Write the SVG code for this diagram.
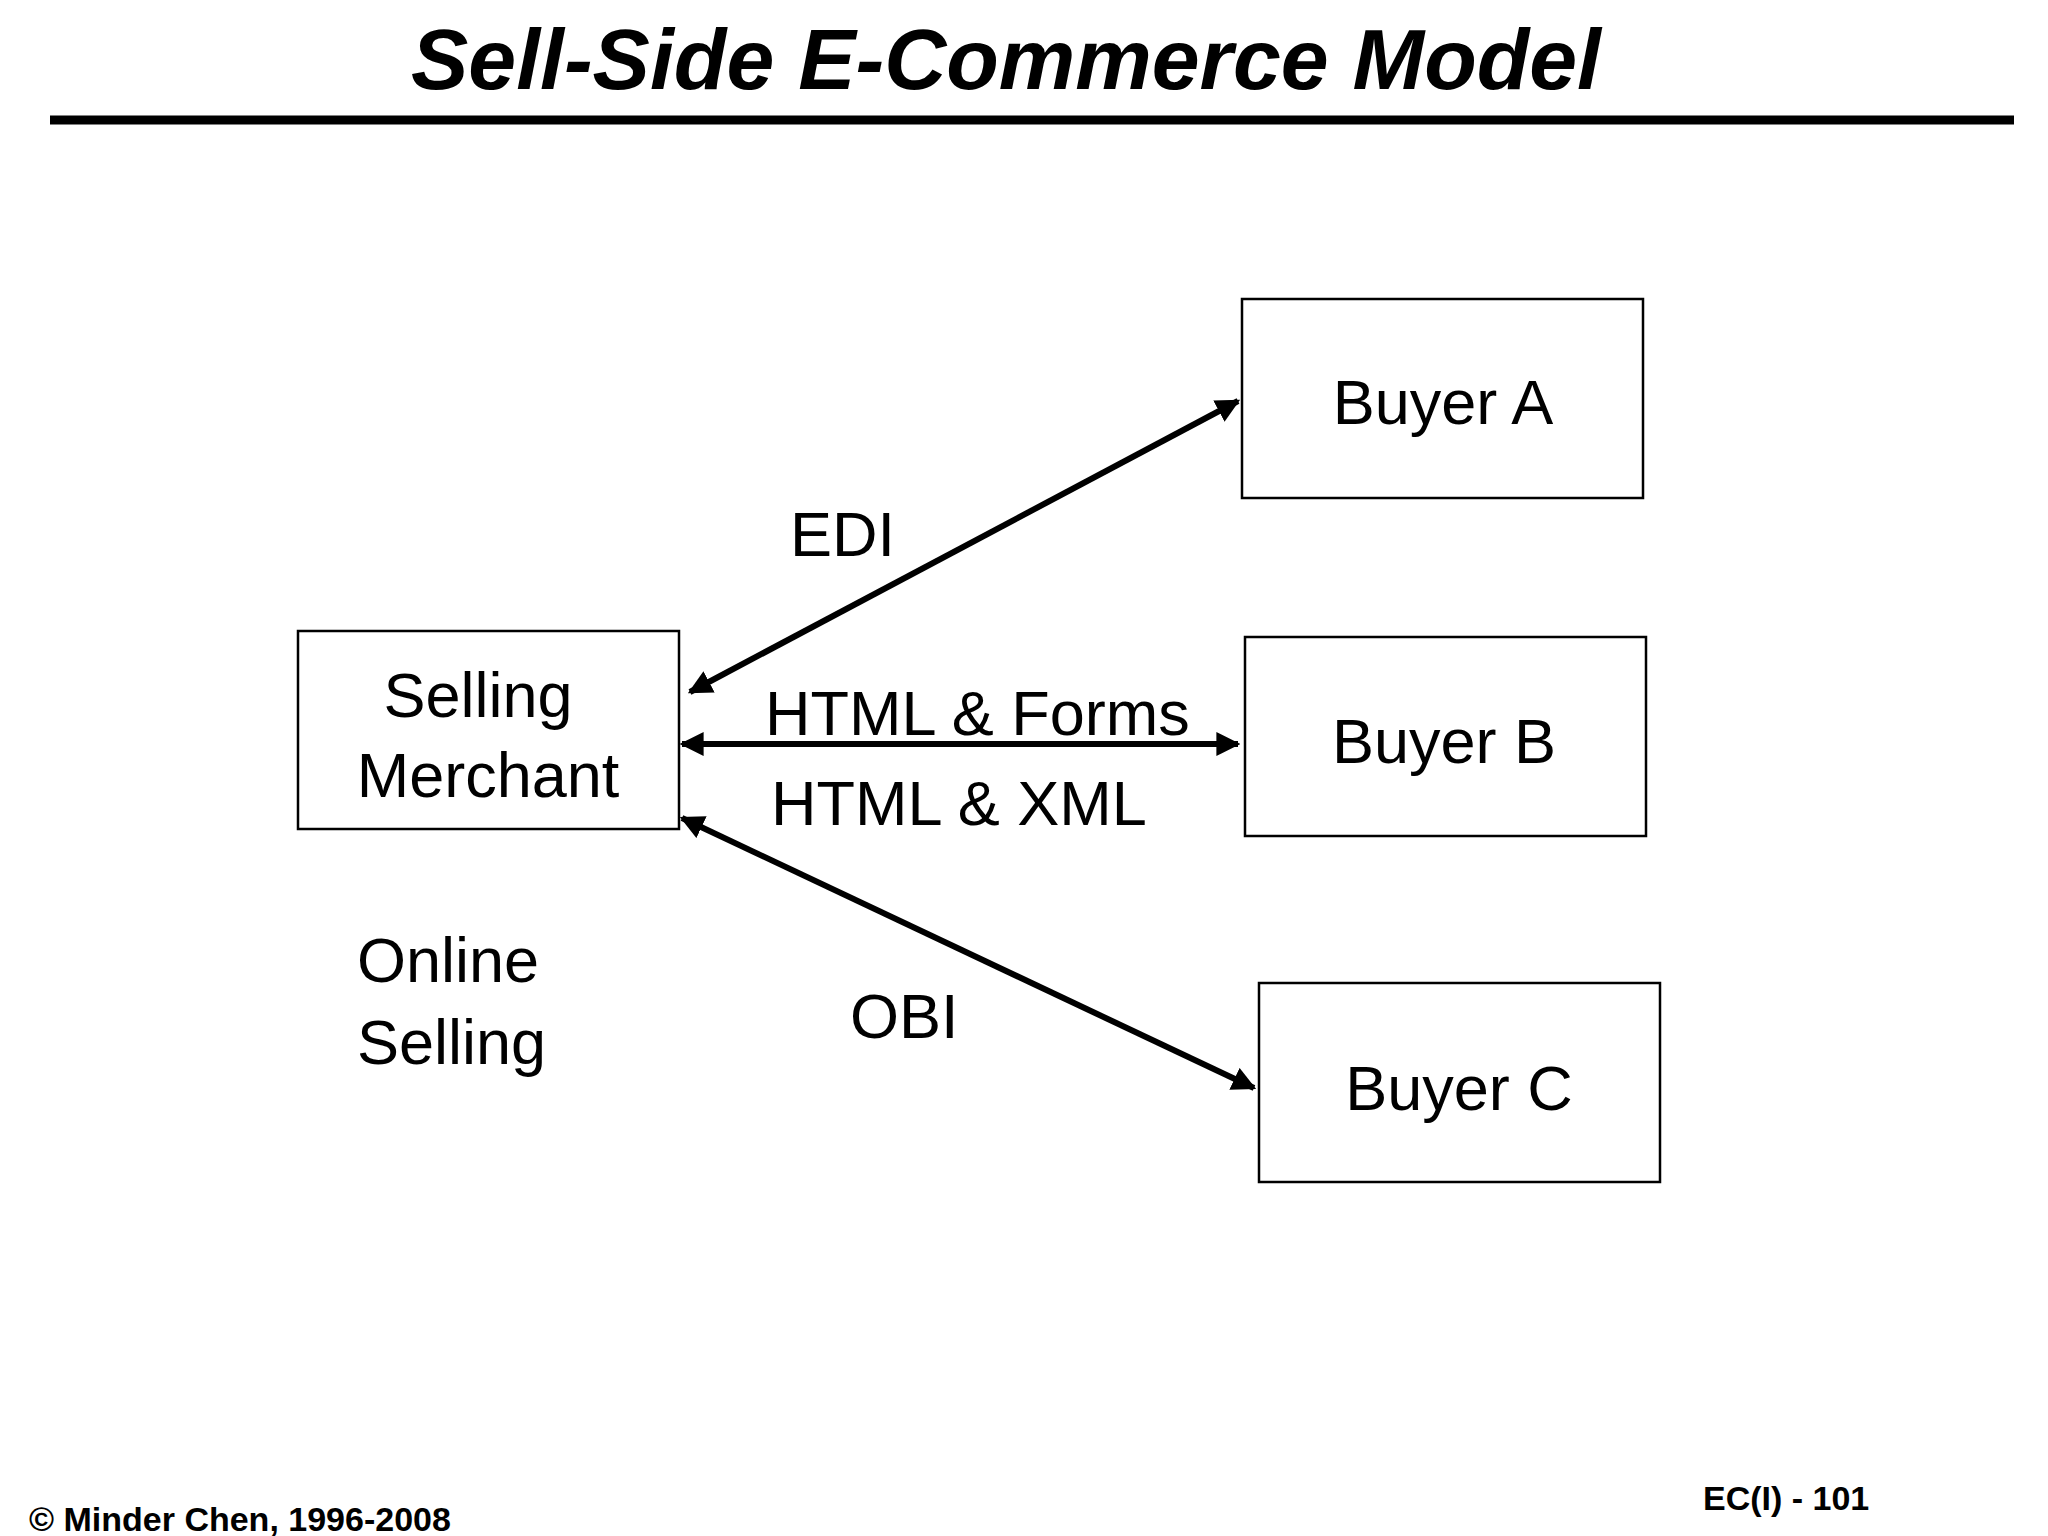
<svg xmlns="http://www.w3.org/2000/svg" width="2048" height="1536" viewBox="0 0 2048 1536">
<defs>
<style>
.t{font-family:"Liberation Sans",Arial,sans-serif;font-size:63px;fill:#000}
.box{fill:#fff;stroke:#000;stroke-width:2.5}
.c{stroke:#000;stroke-width:6;fill:none;marker-start:url(#ah);marker-end:url(#ah)}
.f{font-family:"Liberation Sans",Arial,sans-serif;font-size:34px;font-weight:bold}
</style>
<marker id="ah" viewBox="0 0 10 10" refX="9" refY="5" markerWidth="4" markerHeight="4" orient="auto-start-reverse"><path d="M0,0L10,5L0,10z" fill="#000"/></marker>
</defs>
<rect width="2048" height="1536" fill="#fff"/>
<text x="1006" y="89" text-anchor="middle" style="font-family:'Liberation Sans',Arial,sans-serif;font-size:86px;font-weight:bold;font-style:italic">Sell-Side E-Commerce Model</text>
<line x1="50" y1="120" x2="2014" y2="120" stroke="#000" stroke-width="9"/>
<g id="merchant"><rect class="box" x="298" y="631" width="381" height="198"/><text class="t" x="478" y="717" text-anchor="middle">Selling</text><text class="t" x="488" y="797" text-anchor="middle">Merchant</text></g>
<g id="buyerA"><rect class="box" x="1242" y="299" width="401" height="199"/><text class="t" x="1443" y="424" text-anchor="middle">Buyer A</text></g>
<g id="buyerB"><rect class="box" x="1245" y="637" width="401" height="199"/><text class="t" x="1444" y="763" text-anchor="middle">Buyer B</text></g>
<g id="buyerC"><rect class="box" x="1259" y="983" width="401" height="199"/><text class="t" x="1459" y="1110" text-anchor="middle">Buyer C</text></g>
<g id="connectors">
<line class="c" x1="690" y1="692" x2="1238" y2="401"/>
<line class="c" x1="682" y1="744" x2="1238" y2="744"/>
<line class="c" x1="682" y1="818" x2="1254" y2="1088"/>
</g>
<text class="t" x="790" y="556">EDI</text>
<text class="t" x="765" y="735">HTML &amp; Forms</text>
<text class="t" x="771" y="825">HTML &amp; XML</text>
<text class="t" x="850" y="1038">OBI</text>
<text class="t" x="357" y="982">Online</text>
<text class="t" x="357" y="1064">Selling</text>
<text class="f" x="29" y="1531">© Minder Chen, 1996-2008</text>
<text class="f" x="1703" y="1510">EC(I) - 101</text>
</svg>
